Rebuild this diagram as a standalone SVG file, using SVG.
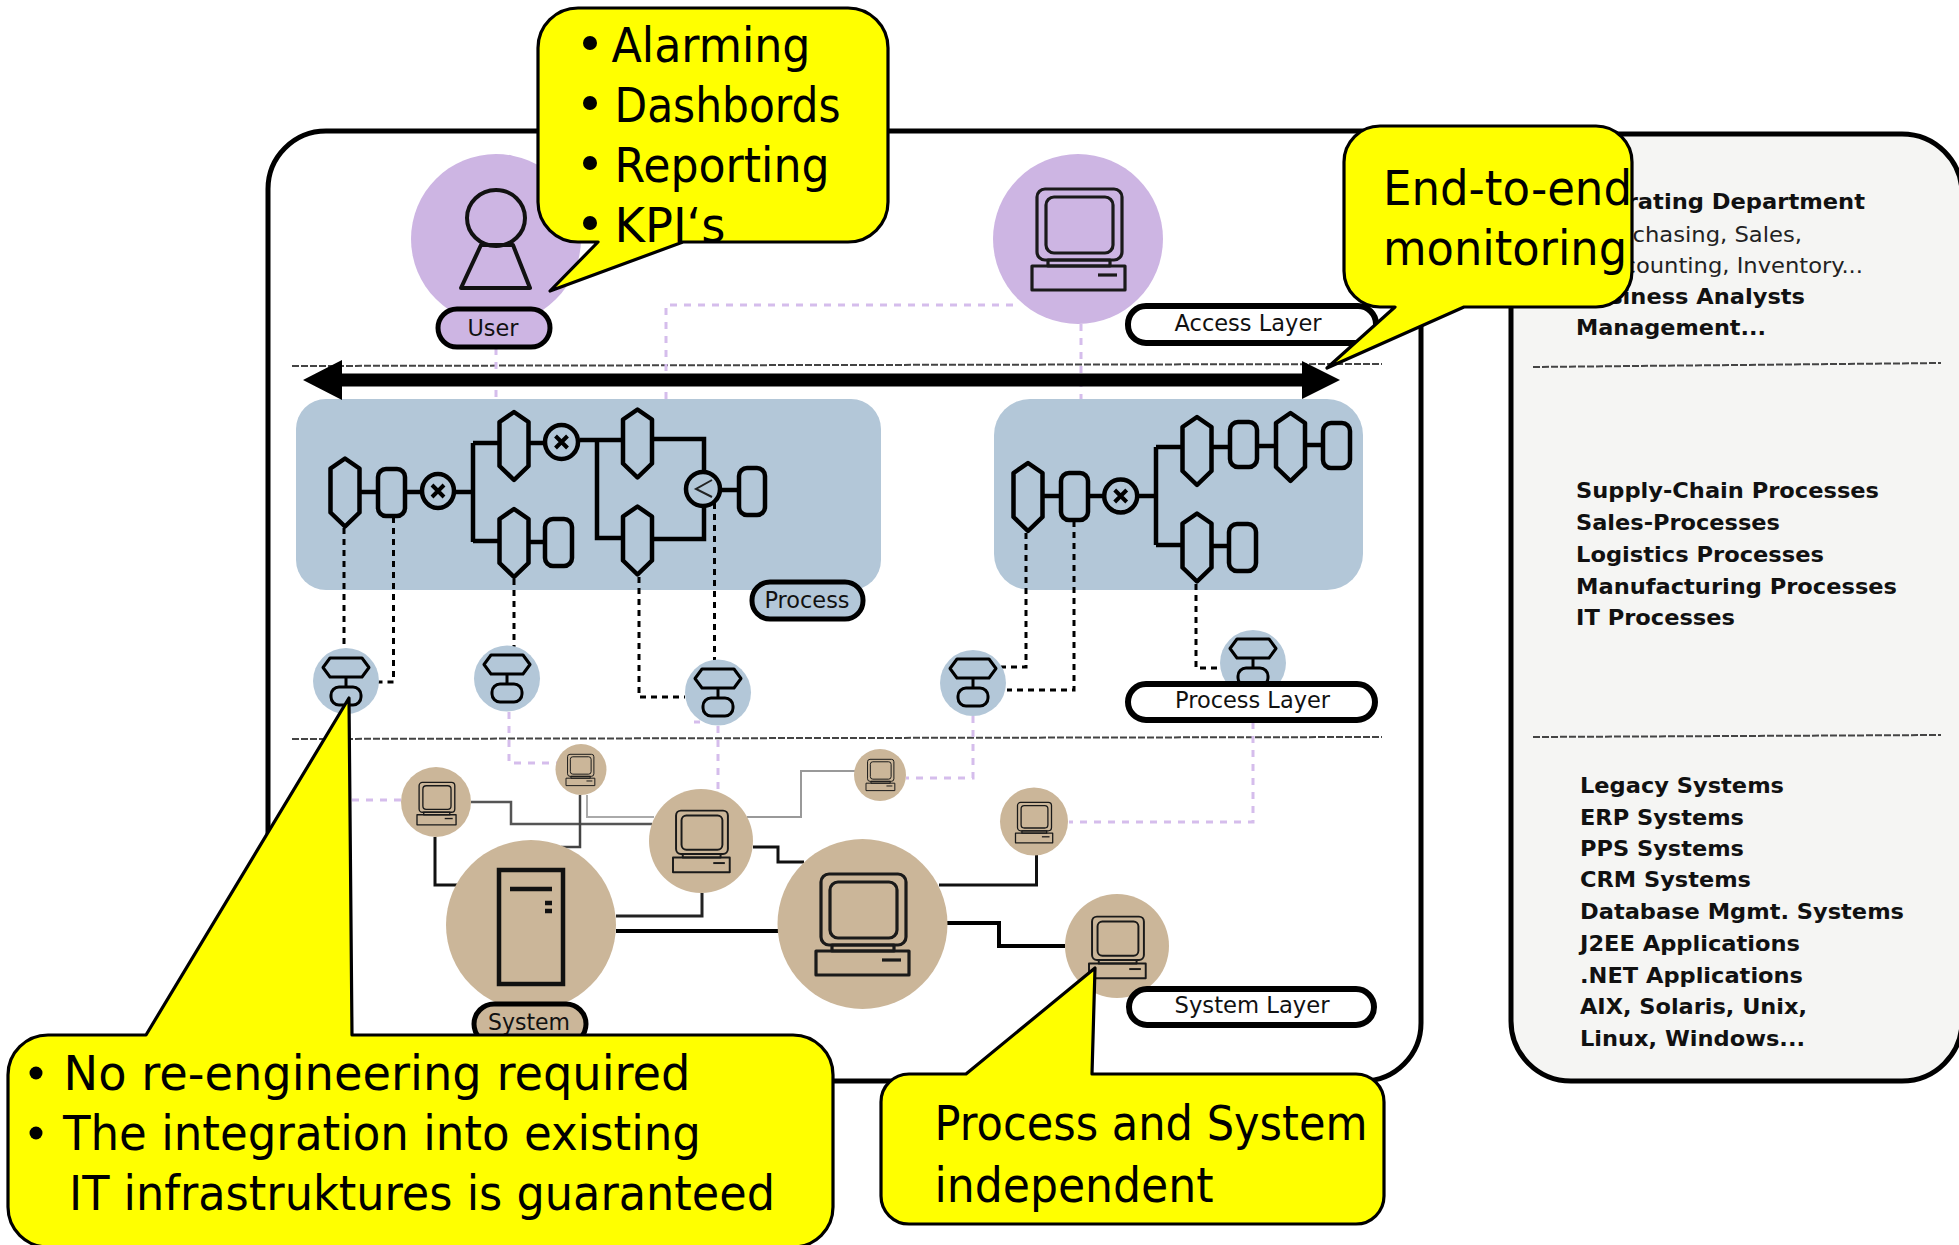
<svg xmlns="http://www.w3.org/2000/svg" xmlns:xlink="http://www.w3.org/1999/xlink" width="1959" height="1245" viewBox="0 0 1959 1245">
<style>
text{font-family:"DejaVu Sans",sans-serif;fill:#000}
.big{font-size:48px}
.lab{font-size:23px;fill:#111}
.lst{font-size:22px;font-weight:bold;fill:#111}
.reg{font-size:22px;fill:#222}
.call{fill:#ff0;stroke:#000;stroke-width:3.2;stroke-linejoin:round}
.pill{stroke:#000;stroke-width:6;fill:#fff}
.pill4{stroke:#000;stroke-width:5}
.wf{fill:#b3c7d8;stroke:#000;stroke-width:4.500;stroke-linejoin:round}
.ln{fill:none;stroke:#000;stroke-width:4.500}
.dk{fill:none;stroke:#000;stroke-width:3;stroke-dasharray:6 5}
.pu{fill:none;stroke:#d5bdec;stroke-width:3;stroke-dasharray:7 7}
.sep{fill:none;stroke:#444;stroke-width:2;stroke-dasharray:7 2}
.blue{fill:#b3c7d8}.tan{fill:#cbb699}.pur{fill:#cdb5e3}
.ic{fill:none;stroke:#1a1a1a;stroke-width:3.200;stroke-linejoin:round}
</style>
<defs>
<g id="pc" class="ic">
<rect x="5" y="1" width="85" height="71" rx="8"/>
<rect x="14" y="9" width="67" height="56" rx="8"/>
<rect x="16" y="72" width="62" height="6"/>
<rect x="0" y="78" width="93" height="24"/>
<path d="M66 87H85"/>
</g>
<g id="proc" style="fill:none;stroke:#000;stroke-width:3;stroke-linejoin:round">
<path d="M-16 -23H16L23 -13.500L16 -4H-16L-23 -13.500Z"/>
<path d="M0 -4V6"/>
<rect x="-15" y="6" width="30" height="18" rx="8"/>
</g>
<path id="hexv" d="M0 -34L14.500 -24V20L0 34L-14.500 20V-24Z"/>
</defs>

<rect id="main-frame" x="268" y="131" width="1153" height="950" rx="58" fill="#fff" stroke="#000" stroke-width="5"/>
<rect id="side-panel" x="1511" y="134" width="451" height="947" rx="60" fill="#f5f5f3" stroke="#000" stroke-width="5"/>

<g id="separators">
<path class="sep" d="M292 366L1382 364"/>
<path class="sep" d="M292 739L1382 737"/>
<path class="sep" d="M1533 367L1941 363"/>
<path class="sep" d="M1533 737L1941 735"/>
</g>

<g id="connectors-background">
<path class="pu" d="M496 348V399"/>
<path class="pu" d="M666 399V305H1020"/>
<path class="pu" d="M1081 324V399"/>
<path class="pu" d="M509 712V763H558"/>
<path class="pu" d="M718 726V790"/>
<path class="pu" d="M352 800H403"/>
<path class="pu" d="M973 716V778H906"/>
<path class="pu" d="M1253 722V822H1069"/>
<path class="pu" d="M694 722H700"/>
<path d="M471 802H511V824H652" fill="none" stroke="#555" stroke-width="2.500"/>
<path d="M580 795V847H561" fill="none" stroke="#444" stroke-width="2.500"/>
<path d="M587 795V817H654" fill="none" stroke="#aaa" stroke-width="2"/>
<path d="M747 817H801V771H856" fill="none" stroke="#999" stroke-width="2"/>
<path d="M435 837V885H457" fill="none" stroke="#111" stroke-width="3"/>
<path d="M753 847H778V862H804" fill="none" stroke="#111" stroke-width="3"/>
<path d="M616 916H702V893" fill="none" stroke="#222" stroke-width="3"/>
<path d="M616 931H778" fill="none" stroke="#000" stroke-width="4"/>
<path d="M939 885H1036.500V855" fill="none" stroke="#111" stroke-width="3"/>
<path d="M947 923H999V946H1065" fill="none" stroke="#000" stroke-width="4"/>
</g>

<g id="user"><circle class="pur" cx="496" cy="239" r="85"/>
<ellipse cx="496" cy="218" rx="29" ry="28" fill="none" stroke="#111" stroke-width="4"/>
<path d="M481 245H513L530 288H461Z" fill="none" stroke="#111" stroke-width="4" stroke-linejoin="round"/></g>
<g id="user-label"><rect class="pur pill4" x="438" y="309" width="112" height="38" rx="19"/><text class="lab" x="493" y="336" text-anchor="middle" textLength="51" lengthAdjust="spacingAndGlyphs">User</text></g>
<g id="access-pc"><circle class="pur" cx="1078" cy="239" r="85"/><use xlink:href="#pc" href="#pc" transform="translate(1032 188)"/></g>
<g id="access-label"><rect class="pill" x="1128" y="306" width="248" height="37" rx="18"/><text class="lab" x="1248" y="331" text-anchor="middle" textLength="147" lengthAdjust="spacingAndGlyphs">Access Layer</text></g>

<g id="process-a">
<rect class="blue" x="296" y="399" width="585" height="191" rx="30"/>
<path class="ln" d="M361 492H377M406 492H421M455 492H473M473 443V542M473 443H498M473 541H498M530 443H544M530 542H544M580 440H621M597 440V538H621M654 439H704V471M654 539H704V507M721 490H738"/>
<use xlink:href="#hexv" href="#hexv" class="wf" transform="translate(345 492.500)"/>
<rect class="wf" x="378" y="469" width="27" height="47" rx="8"/>
<ellipse class="wf" cx="438" cy="491" rx="16" ry="17"/>
<path d="M432 485L444 497M444 485L432 497" stroke="#000" stroke-width="4"/>
<use xlink:href="#hexv" href="#hexv" class="wf" transform="translate(514 446)"/>
<use xlink:href="#hexv" href="#hexv" class="wf" transform="translate(514 543)"/>
<ellipse class="wf" cx="561.500" cy="442" rx="16.500" ry="17"/>
<path d="M555.500 436L567.500 448M567.500 436L555.500 448" stroke="#000" stroke-width="4"/>
<rect class="wf" x="545" y="519" width="27" height="47" rx="8"/>
<use xlink:href="#hexv" href="#hexv" class="wf" transform="translate(637.500 443.500)"/>
<use xlink:href="#hexv" href="#hexv" class="wf" transform="translate(637.500 540.500)"/>
<ellipse class="wf" cx="703" cy="489" rx="17" ry="17"/>
<path d="M712 480L696 489L712 497" fill="none" stroke="#222" stroke-width="2"/>
<rect class="wf" x="739" y="468" width="26" height="47" rx="8"/>
</g>
<g id="process-label"><rect class="blue pill4" x="752" y="582" width="111" height="37" rx="18"/><text class="lab" x="807" y="608" text-anchor="middle" textLength="85" lengthAdjust="spacingAndGlyphs">Process</text></g>

<g id="process-b">
<rect class="blue" x="994" y="399" width="369" height="191" rx="36"/>
<path class="ln" d="M1044 496H1060M1089 496H1103M1138 496H1156M1156 447V545M1156 447H1181M1156 545H1181M1213 447H1229M1258 446H1274M1307 445H1322M1213 546H1228"/>
<use xlink:href="#hexv" href="#hexv" class="wf" transform="translate(1028 497)"/>
<rect class="wf" x="1061" y="473" width="27" height="47" rx="8"/>
<circle class="wf" cx="1120.700" cy="496" r="16.500"/>
<path d="M1114.700 490L1126.700 502M1126.700 490L1114.700 502" stroke="#000" stroke-width="4"/>
<use xlink:href="#hexv" href="#hexv" class="wf" transform="translate(1197 451)"/>
<rect class="wf" x="1230" y="422" width="27" height="45" rx="8"/>
<use xlink:href="#hexv" href="#hexv" class="wf" transform="translate(1290.500 447)"/>
<rect class="wf" x="1323" y="423" width="27" height="45" rx="8"/>
<use xlink:href="#hexv" href="#hexv" class="wf" transform="translate(1197 547.500)"/>
<rect class="wf" x="1229" y="524" width="27" height="47" rx="8"/>
</g>

<g id="connectors-dashed">
<path class="dk" d="M344 528V647"/>
<path class="dk" d="M393.500 517V682H377"/>
<path class="dk" d="M514 579V647"/>
<path class="dk" d="M639 577V697H685"/>
<path class="dk" d="M714.500 503V660"/>
<path class="dk" d="M1026 533V667H1001"/>
<path class="dk" d="M1074 521V690H1007"/>
<path class="dk" d="M1196 584V668H1223"/>
</g>

<g id="func-1"><circle class="blue" cx="346" cy="681" r="33"/><use xlink:href="#proc" href="#proc" transform="translate(346 681)"/></g>
<g id="func-2"><circle class="blue" cx="507" cy="678.500" r="33"/><use xlink:href="#proc" href="#proc" transform="translate(507 678)"/></g>
<g id="func-3"><circle class="blue" cx="718" cy="692.500" r="33"/><use xlink:href="#proc" href="#proc" transform="translate(718 692)"/></g>
<g id="func-4"><circle class="blue" cx="973" cy="683" r="33"/><use xlink:href="#proc" href="#proc" transform="translate(973 682)"/></g>
<g id="func-5"><circle class="blue" cx="1253" cy="663" r="33"/><use xlink:href="#proc" href="#proc" transform="translate(1253 662)"/></g>
<g id="process-layer-label"><rect class="pill" x="1128" y="684" width="247" height="36" rx="18"/><text class="lab" x="1252.500" y="708" text-anchor="middle" textLength="155" lengthAdjust="spacingAndGlyphs">Process Layer</text></g>

<g id="sys-a"><circle class="tan" cx="436" cy="802" r="35"/><use xlink:href="#pc" href="#pc" transform="translate(417 782) scale(.42)"/></g>
<g id="sys-b"><circle class="tan" cx="581" cy="769.500" r="25.500"/><use xlink:href="#pc" href="#pc" transform="translate(566 754) scale(.31)"/></g>
<g id="sys-server"><circle class="tan" cx="531" cy="925" r="85"/>
<rect x="499" y="870" width="64" height="114" fill="none" stroke="#111" stroke-width="4.500"/>
<path d="M510 889H552" stroke="#111" stroke-width="4.500"/>
<path d="M545 903H552M545 911H552" stroke="#111" stroke-width="4.500"/></g>
<g id="sys-d"><circle class="tan" cx="701" cy="841" r="52"/><use xlink:href="#pc" href="#pc" transform="translate(673 810) scale(.61)"/></g>
<g id="sys-e"><circle class="tan" cx="862.500" cy="924" r="85"/><use xlink:href="#pc" href="#pc" transform="translate(816 873)"/></g>
<g id="sys-f"><circle class="tan" cx="1117" cy="946" r="52"/><use xlink:href="#pc" href="#pc" transform="translate(1089 916) scale(.61)"/></g>
<g id="sys-g"><circle class="tan" cx="1034" cy="821.500" r="34"/><use xlink:href="#pc" href="#pc" transform="translate(1015.500 802) scale(.4)"/></g>
<g id="sys-h"><circle class="tan" cx="880" cy="775" r="26"/><use xlink:href="#pc" href="#pc" transform="translate(866 759) scale(.31)"/></g>
<g id="system-label"><rect class="tan pill4" x="474" y="1004" width="112" height="40" rx="20"/><text class="lab" x="529" y="1030" text-anchor="middle" textLength="82" lengthAdjust="spacingAndGlyphs">System</text></g>
<g id="system-layer-label"><rect class="pill" x="1129" y="989" width="245" height="36" rx="18"/><text class="lab" x="1252" y="1013" text-anchor="middle" textLength="155" lengthAdjust="spacingAndGlyphs">System Layer</text></g>

<g id="panel-text">
<text class="lst" x="1576" y="209" textLength="289" lengthAdjust="spacingAndGlyphs">Operating Department</text>
<text class="reg" x="1596" y="242" textLength="206" lengthAdjust="spacingAndGlyphs">Purchasing, Sales,</text>
<text class="reg" x="1596" y="273" textLength="267" lengthAdjust="spacingAndGlyphs">Accounting, Inventory...</text>
<text class="lst" x="1576" y="304" textLength="229" lengthAdjust="spacingAndGlyphs">Business Analysts</text>
<text class="lst" x="1576" y="335" textLength="190" lengthAdjust="spacingAndGlyphs">Management...</text>
<text class="lst" x="1576" y="498" textLength="303" lengthAdjust="spacingAndGlyphs">Supply-Chain Processes</text>
<text class="lst" x="1576" y="530" textLength="204" lengthAdjust="spacingAndGlyphs">Sales-Processes</text>
<text class="lst" x="1576" y="562" textLength="248" lengthAdjust="spacingAndGlyphs">Logistics Processes</text>
<text class="lst" x="1576" y="594" textLength="321" lengthAdjust="spacingAndGlyphs">Manufacturing Processes</text>
<text class="lst" x="1576" y="625" textLength="159" lengthAdjust="spacingAndGlyphs">IT Processes</text>
<text class="lst" x="1580" y="793" textLength="204" lengthAdjust="spacingAndGlyphs">Legacy Systems</text>
<text class="lst" x="1580" y="825" textLength="164" lengthAdjust="spacingAndGlyphs">ERP Systems</text>
<text class="lst" x="1580" y="856" textLength="164" lengthAdjust="spacingAndGlyphs">PPS Systems</text>
<text class="lst" x="1580" y="887" textLength="171" lengthAdjust="spacingAndGlyphs">CRM Systems</text>
<text class="lst" x="1580" y="919" textLength="324" lengthAdjust="spacingAndGlyphs">Database Mgmt. Systems</text>
<text class="lst" x="1580" y="951" textLength="220" lengthAdjust="spacingAndGlyphs">J2EE Applications</text>
<text class="lst" x="1580" y="983" textLength="223" lengthAdjust="spacingAndGlyphs">.NET Applications</text>
<text class="lst" x="1580" y="1014" textLength="227" lengthAdjust="spacingAndGlyphs">AIX, Solaris, Unix,</text>
<text class="lst" x="1580" y="1046" textLength="225" lengthAdjust="spacingAndGlyphs">Linux, Windows...</text>
</g>

<path id="span-arrow" d="M303 380L342 360V373.500H1302V361L1340 380L1302 399V386.500H342V400Z" fill="#000"/>

<g id="callout-top">
<path class="call" d="M578 8H848A40 40 0 0 1 888 48V202A40 40 0 0 1 848 242H683L550 291L598 242H578A40 40 0 0 1 538 202V48A40 40 0 0 1 578 8Z"/>
<circle cx="590" cy="43" r="7"/><circle cx="590" cy="103" r="7"/><circle cx="590" cy="163" r="7"/><circle cx="590" cy="223" r="7"/>
<text class="big" x="611.500" y="62" textLength="199" lengthAdjust="spacingAndGlyphs">Alarming</text>
<text class="big" x="614.500" y="122" textLength="226" lengthAdjust="spacingAndGlyphs">Dashbords</text>
<text class="big" x="614.500" y="182" textLength="215" lengthAdjust="spacingAndGlyphs">Reporting</text>
<text class="big" x="614.500" y="242" textLength="111" lengthAdjust="spacingAndGlyphs">KPI‘s</text>
</g>
<g id="callout-e2e">
<path class="call" d="M1380 126H1596A36 36 0 0 1 1632 162V271A36 36 0 0 1 1596 307H1464L1327 368L1395 307H1380A36 36 0 0 1 1344 271V162A36 36 0 0 1 1380 126Z"/>
<text class="big" x="1383" y="205" textLength="249" lengthAdjust="spacingAndGlyphs">End-to-end</text>
<text class="big" x="1383" y="265" textLength="244" lengthAdjust="spacingAndGlyphs">monitoring</text>
</g>
<g id="callout-integration">
<path class="call" d="M48 1035H146L349 698L352 1035H793A40 40 0 0 1 833 1075V1207A40 40 0 0 1 793 1247H48A40 40 0 0 1 8 1207V1075A40 40 0 0 1 48 1035Z"/>
<circle cx="36" cy="1073" r="6.500"/><circle cx="36" cy="1133" r="6.500"/>
<text class="big" x="63.500" y="1090" textLength="627" lengthAdjust="spacingAndGlyphs">No re-engineering required</text>
<text class="big" x="63" y="1150" textLength="638" lengthAdjust="spacingAndGlyphs">The integration into existing</text>
<text class="big" x="69" y="1210" textLength="706" lengthAdjust="spacingAndGlyphs">IT infrastruktures is guaranteed</text>
</g>
<g id="callout-independent">
<path class="call" d="M909 1074H966L1095 968L1092 1074H1356A28 28 0 0 1 1384 1102V1196A28 28 0 0 1 1356 1224H909A28 28 0 0 1 881 1196V1102A28 28 0 0 1 909 1074Z"/>
<text class="big" x="934.500" y="1140" textLength="433" lengthAdjust="spacingAndGlyphs">Process and System</text>
<text class="big" x="934.500" y="1202" textLength="279" lengthAdjust="spacingAndGlyphs">independent</text>
</g>
</svg>
